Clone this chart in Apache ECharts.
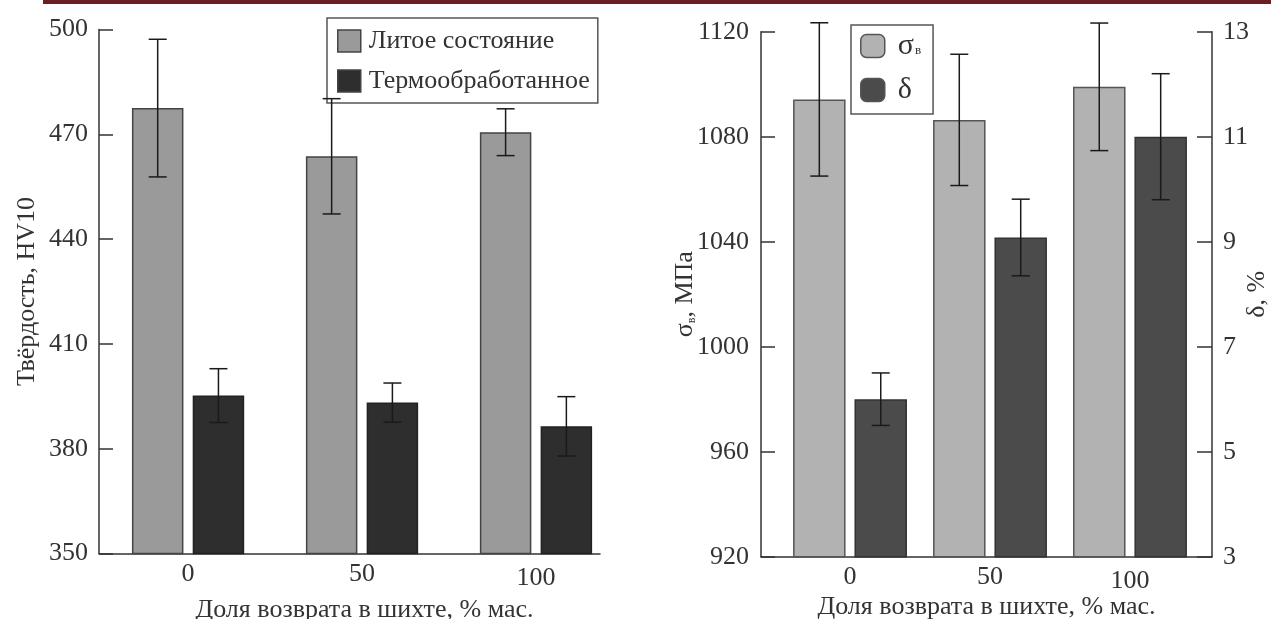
<!DOCTYPE html>
<html>
<head>
<meta charset="utf-8">
<script src="https://cdn.jsdelivr.net/npm/echarts@6/dist/echarts.min.js"></script>
<style>
  html, body { margin: 0; padding: 0; background: #ffffff; }
  #chart { width: 1271px; height: 619px; }
</style>
</head>
<body>
<div id="chart"></div>
<script>
// ---------- data ----------
const shares = [0, 50, 100];                       // Доля возврата в шихте, % мас.
const shareTicks = [0, 50, 100];

// left panel: hardness HV10
const castHardness = [477.5, 463.7, 470.6];        // Литое состояние
const castHardnessErr = [19.7, 16.5, 6.7];
const heatHardness = [395.2, 393.2, 386.4];        // Термообработанное
const heatHardnessErr = [7.7, 5.6, 8.5];
const hardnessTicks = [350, 380, 410, 440, 470, 500];

// right panel: strength σв (MPa) and elongation δ (%)
const strength = [1094.2, 1086.4, 1099.0];
const strengthErr = [29.2, 25.0, 24.3];
const elongation = [6.0, 9.08, 11.0];
const elongationErr = [0.5, 0.73, 1.2];
const strengthTicks = [920, 960, 1000, 1040, 1080, 1120];
const elongationTicks = [3, 5, 7, 9, 11, 13];

// ---------- style ----------
const FONT = "'Liberation Serif', 'Times New Roman', serif";
const TXT = '#333333';
const FS = 26;

const L_BAR = 0.296, L_GAP = 0.18;   // left panel bar width / gap (fractions)
const R_BAR = 0.375, R_GAP = 0.17;   // right panel

function pairs(xs, ys) { return xs.map((x, i) => [x, ys[i]]); }
function plain(v) { return String(v); }
function xLabel(v) { return v === 100 ? '{low|' + v + '}' : '{n|' + v + '}'; }
const xLabelRich = {
  n: { fontFamily: FONT, fontSize: FS, color: TXT },
  low: { fontFamily: FONT, fontSize: FS, color: TXT, padding: [4, 0, 0, 0] }
};

function errSeries(xIdx, yIdx, vals, errs, side, barPct, gapPct) {
  return {
    type: 'custom', xAxisIndex: xIdx, yAxisIndex: yIdx, z: 10, silent: true,
    data: shares.map((s, i) => [s, vals[i] - errs[i], vals[i] + errs[i]]),
    renderItem: function (params, api) {
      const x = api.value(0);
      const band = api.size([50, 0], [x, 0])[0];
      const bw = band * barPct;
      const off = side * bw * (1 + gapPct) / 2;
      const top = api.coord([x, api.value(2)]);
      const bot = api.coord([x, api.value(1)]);
      const cx = top[0] + off;
      const cap = 9;
      const st = { stroke: '#1a1a1a', lineWidth: 1.5 };
      return {
        type: 'group',
        children: [
          { type: 'line', shape: { x1: cx, y1: top[1], x2: cx, y2: bot[1] }, style: st },
          { type: 'line', shape: { x1: cx - cap, y1: top[1], x2: cx + cap, y2: top[1] }, style: st },
          { type: 'line', shape: { x1: cx - cap, y1: bot[1], x2: cx + cap, y2: bot[1] }, style: st }
        ]
      };
    }
  };
}

const axisLineStyle = { show: true, onZero: false, lineStyle: { color: '#333', width: 1.5 } };
const labelStyle = { color: TXT, fontFamily: FONT, fontSize: FS };

const chart = echarts.init(document.getElementById('chart'), null, { renderer: 'canvas' });

const option = {
  backgroundColor: '#ffffff',
  animation: false,
  graphic: [
    { type: 'rect', left: 43, top: 0, shape: { width: 1228, height: 4 }, style: { fill: '#6b1f22' }, silent: true }
  ],
  grid: [
    { left: 99, right: 671, top: 29.5, bottom: 65.5, containLabel: false, outerBoundsMode: 'none' },
    { left: 761, right: 59, top: 31.7, bottom: 62.3, containLabel: false, outerBoundsMode: 'none' }
  ],
  legend: [
    {
      data: ['Литое состояние', 'Термообработанное'],
      orient: 'vertical', left: 327, top: 18,
      padding: [10, 8, 9, 10],
      itemWidth: 23, itemHeight: 22, itemGap: 14,
      borderColor: '#555', borderWidth: 1.5,
      icon: 'rect',
      itemStyle: { borderColor: '#444', borderWidth: 1.5 },
      textStyle: { color: TXT, fontFamily: FONT, fontSize: FS, padding: [0, 0, 0, 3] }
    },
    {
      data: ['σв', 'δ'],
      orient: 'vertical', left: 851, top: 25,
      padding: [6, 12, 9, 9],
      itemWidth: 24, itemHeight: 23, itemGap: 14,
      borderColor: '#555', borderWidth: 1.5,
      icon: 'roundRect',
      itemStyle: { borderColor: '#555', borderWidth: 1.5 },
      formatter: function (name) { return name === 'σв' ? '{a|σ}{s|в}' : '{a|δ}'; },
      textStyle: {
        color: TXT, fontFamily: FONT, fontSize: FS, padding: [0, 0, 0, 8],
        rich: {
          a: { fontFamily: FONT, fontSize: 30, lineHeight: 23, color: TXT },
          s: { fontFamily: FONT, fontSize: 13, lineHeight: 23, color: TXT, verticalAlign: 'bottom', padding: [0, 0, 0, 1] }
        }
      }
    }
  ],
  xAxis: [
    {
      type: 'value', gridIndex: 0, min: -25.6, max: 118.4,
      axisLine: axisLineStyle, axisTick: { show: false }, splitLine: { show: false },
      axisLabel: Object.assign({ margin: 8, customValues: shareTicks, formatter: xLabel, rich: xLabelRich }, labelStyle),
      name: 'Доля возврата в шихте, % мас.', nameLocation: 'middle', nameGap: 44, nameMoveOverlap: false,
      nameTextStyle: Object.assign({ padding: [0, 0, 0, 30] }, labelStyle)
    },
    {
      type: 'value', gridIndex: 1, min: -31.8, max: 129.3,
      axisLine: axisLineStyle, axisTick: { show: false }, splitLine: { show: false },
      axisLabel: Object.assign({ margin: 7, customValues: shareTicks, formatter: xLabel, rich: xLabelRich }, labelStyle),
      name: 'Доля возврата в шихте, % мас.', nameLocation: 'middle', nameGap: 37, nameMoveOverlap: false,
      nameTextStyle: labelStyle
    }
  ],
  yAxis: [
    {
      type: 'value', gridIndex: 0, min: 350, max: 500,
      axisLine: axisLineStyle,
      axisTick: { show: true, inside: true, length: 14, customValues: hardnessTicks, lineStyle: { color: '#333', width: 1.5 } },
      axisLabel: Object.assign({ margin: 11, customValues: hardnessTicks, formatter: plain }, labelStyle),
      splitLine: { show: false },
      name: 'Твёрдость, HV10', nameLocation: 'middle', nameGap: 59, nameMoveOverlap: false,
      nameTextStyle: labelStyle
    },
    {
      type: 'value', gridIndex: 1, min: 920, max: 1120,
      axisLine: axisLineStyle,
      axisTick: { show: true, inside: true, length: 14, customValues: strengthTicks, lineStyle: { color: '#333', width: 1.5 } },
      axisLabel: Object.assign({ margin: 12, customValues: strengthTicks, formatter: plain }, labelStyle),
      splitLine: { show: false },
      name: '{a|σ}{s|в}{a|, МПа}', nameLocation: 'middle', nameGap: 63, nameMoveOverlap: false,
      nameTextStyle: Object.assign({}, labelStyle, {
        rich: {
          a: { fontFamily: FONT, fontSize: FS, color: TXT },
          s: { fontFamily: FONT, fontSize: 12, color: TXT, verticalAlign: 'bottom' }
        }
      })
    },
    {
      type: 'value', gridIndex: 1, position: 'right', min: 3, max: 13,
      axisLine: axisLineStyle,
      axisTick: { show: true, inside: true, length: 15, customValues: elongationTicks, lineStyle: { color: '#333', width: 1.5 } },
      axisLabel: Object.assign({ margin: 11, customValues: elongationTicks, formatter: plain }, labelStyle),
      splitLine: { show: false },
      name: 'δ, %', nameLocation: 'middle', nameGap: 32, nameRotate: 90, nameMoveOverlap: false,
      nameTextStyle: labelStyle
    }
  ],
  series: [
    {
      name: 'Литое состояние', type: 'bar', xAxisIndex: 0, yAxisIndex: 0,
      data: pairs(shares, castHardness), barWidth: (L_BAR * 100) + '%', barGap: (L_GAP * 100) + '%',
      clip: true,
      itemStyle: { color: '#9a9a9a', borderColor: '#444', borderWidth: 1.5 }
    },
    {
      name: 'Термообработанное', type: 'bar', xAxisIndex: 0, yAxisIndex: 0,
      data: pairs(shares, heatHardness), barWidth: (L_BAR * 100) + '%', barGap: (L_GAP * 100) + '%',
      clip: true,
      itemStyle: { color: '#2e2e2e', borderColor: '#222', borderWidth: 1.5 }
    },
    {
      name: 'σв', type: 'bar', xAxisIndex: 1, yAxisIndex: 1,
      data: pairs(shares, strength), barWidth: (R_BAR * 100) + '%', barGap: (R_GAP * 100) + '%',
      clip: true,
      itemStyle: { color: '#b2b2b2', borderColor: '#555', borderWidth: 1.5 }
    },
    {
      name: 'δ', type: 'bar', xAxisIndex: 1, yAxisIndex: 2,
      data: pairs(shares, elongation), barWidth: (R_BAR * 100) + '%', barGap: (R_GAP * 100) + '%',
      clip: true,
      itemStyle: { color: '#4b4b4b', borderColor: '#333', borderWidth: 1.5 }
    },
    errSeries(0, 0, castHardness, castHardnessErr, -1, L_BAR, L_GAP),
    errSeries(0, 0, heatHardness, heatHardnessErr, 1, L_BAR, L_GAP),
    errSeries(1, 1, strength, strengthErr, -1, R_BAR, R_GAP),
    errSeries(1, 2, elongation, elongationErr, 1, R_BAR, R_GAP)
  ]
};

chart.setOption(option);
</script>
</body>
</html>
